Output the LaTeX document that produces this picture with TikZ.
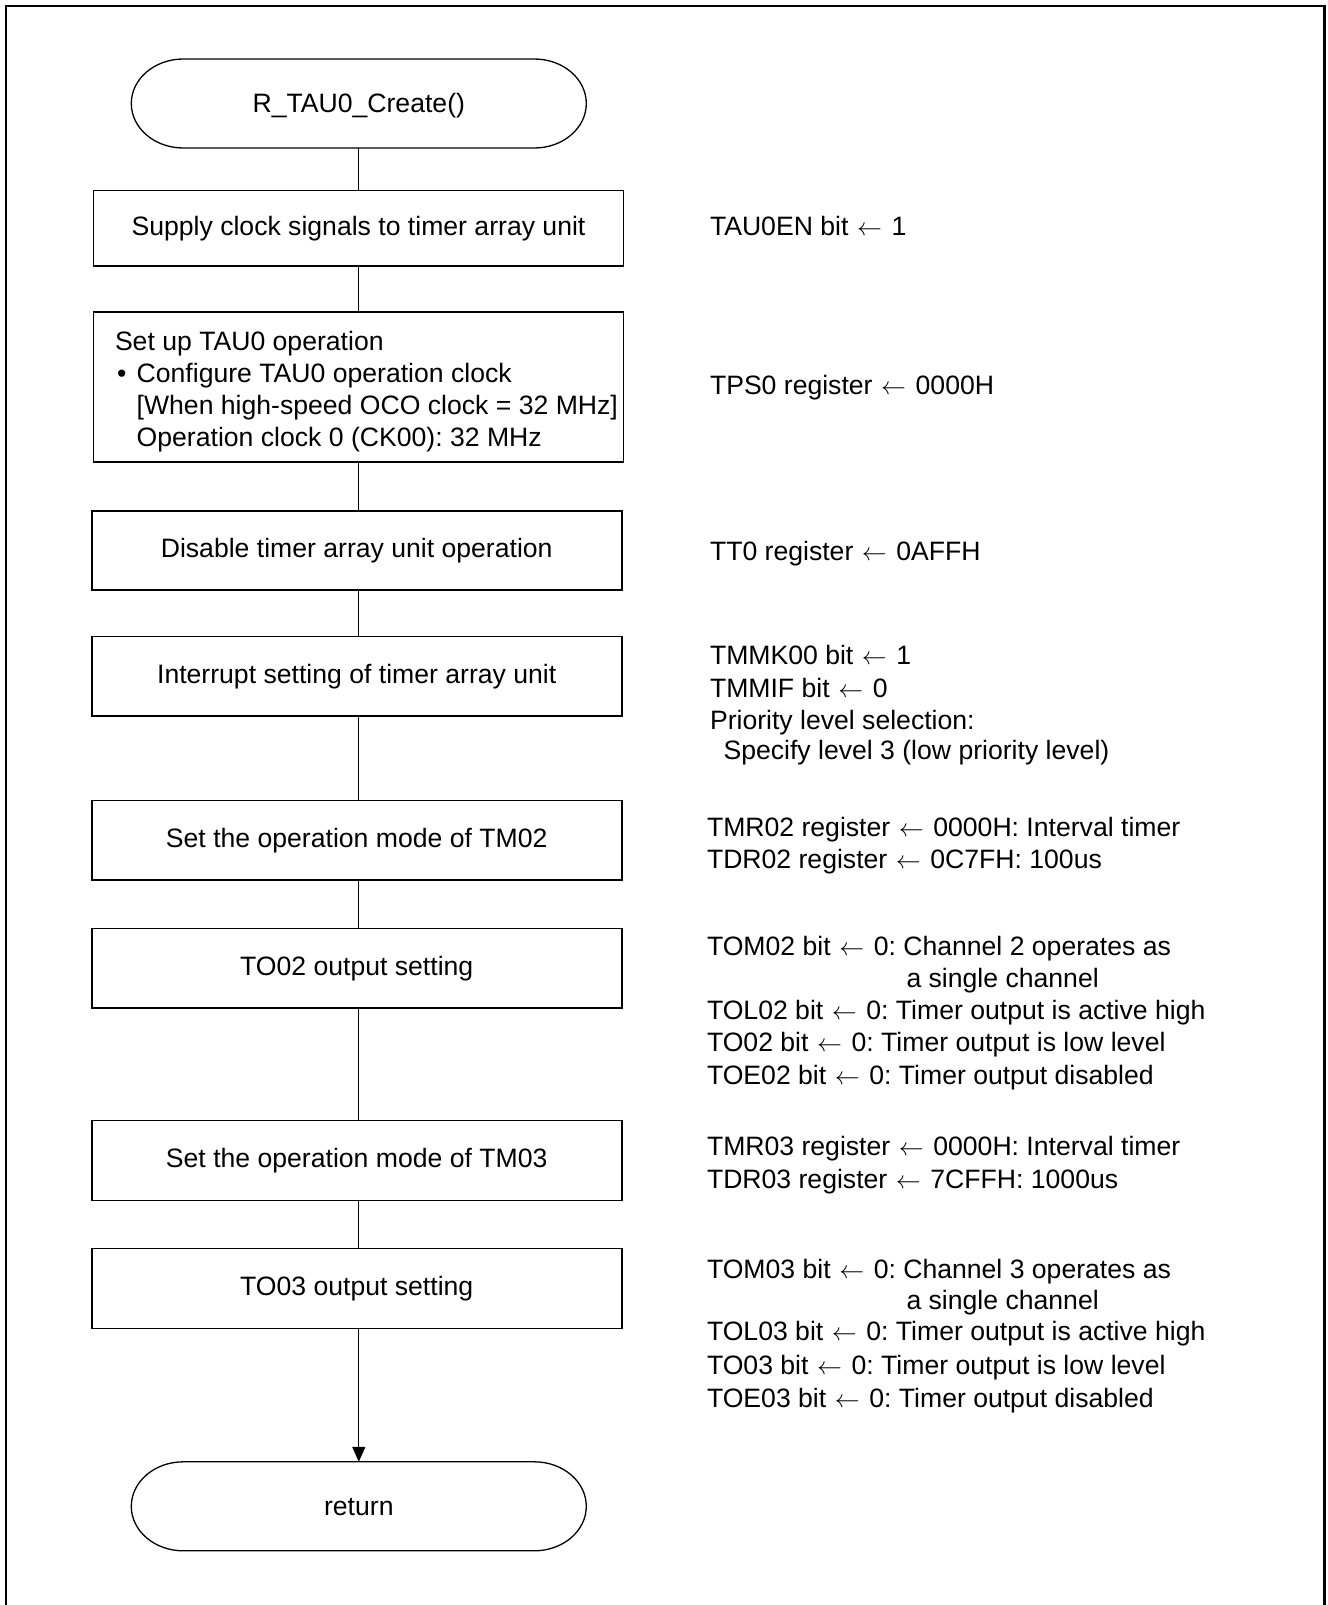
\documentclass[tikz,border=0pt]{standalone}
\usepackage{fontspec}
\setmainfont{Liberation Sans}
\usetikzlibrary{arrows.meta}
\frenchspacing
\newcommand\stadiumoutline[1]{%
  \draw[line width=1.3pt] ([xshift=52pt]#1.north west) -- ([xshift=-52pt]#1.north east)
    arc[start angle=90, end angle=-90, x radius=52pt, y radius=44.5pt]
    -- ([xshift=52pt]#1.south west)
    arc[start angle=270, end angle=90, x radius=52pt, y radius=44.5pt] -- cycle;}
\newcommand\getsarrow{\kern1.2pt$\leftarrow$\kern2.2pt}
\begin{document}
\begin{tikzpicture}[x=1pt,y=1pt,
  every node/.style={font=\fontsize{26.6pt}{32pt}\selectfont\frenchspacing, inner sep=0pt, outer sep=0pt},
  proc/.style={draw, line width=1.6pt, minimum width=530pt, text height=19pt, text depth=5pt},
  term/.style={minimum width=455pt, minimum height=89pt, text height=19pt, text depth=0pt},
  lbl/.style={anchor=base west},
  conn/.style={line width=1.3pt},
  frame/.style={line width=2.6pt}]
\useasboundingbox (0,0) rectangle (1327,-1605);
\fill[white] (0,0) rectangle (1327,-1605);

% outer frame
\coordinate (fbl) at (6,-1605);
\coordinate (ftl) at (6,-6);
\coordinate (ftr) at (1324.5,-6);
\coordinate (fbr) at (1324.5,-1605);
\draw[frame] (fbl) -- (ftl) -- (ftr) -- (fbr);

% flow chart
\node[term] (start) at (358.8,-103.5) {R\_TAU0\_Create()};
\stadiumoutline{start}
\node[proc, minimum height=75.5pt] (b1) at (358.5,-228.2) {Supply clock signals to timer array unit};
\node[draw, line width=1.6pt, minimum width=530pt, minimum height=150pt] (b2) at (358.3,-387) {};
\node[lbl] (b2l1) at (115,-350.5) {Set up TAU0 operation};
\node[lbl] (b2bul) at (117,-382.2) {\textbullet};
\node[lbl] (b2l2) at (136.7,-382.2) {Configure TAU0 operation clock};
\node[lbl] (b2l3) at (136.7,-414.5) {[When high-speed OCO clock = 32 MHz]};
\node[lbl] (b2l4) at (136.7,-446.5) {Operation clock 0 (CK00): 32 MHz};
\node[proc, minimum height=79pt] (b3) at (356.7,-550.5) {Disable timer array unit operation};
\node[proc, minimum height=79.5pt] (b4) at (356.7,-676.2) {Interrupt setting of timer array unit};
\node[proc, minimum height=79.5pt] (b5) at (356.7,-840.2) {Set the operation mode of TM02};
\node[proc, minimum height=79.5pt] (b6) at (356.7,-968.2) {TO02 output setting};
\node[proc, minimum height=80pt] (b7) at (356.7,-1160.5) {Set the operation mode of TM03};
\node[proc, minimum height=80pt] (b8) at (356.7,-1288.4) {TO03 output setting};
\node[term] (ret) at (358.8,-1506.3) {return};
\stadiumoutline{ret}

% connectors
\draw[conn] (start.south) -- (start.south |- b1.north);
\draw[conn] (start.south |- b1.south) -- (start.south |- b2.north);
\draw[conn] (start.south |- b2.south) -- (start.south |- b3.north);
\draw[conn] (start.south |- b3.south) -- (start.south |- b4.north);
\draw[conn] (start.south |- b4.south) -- (start.south |- b5.north);
\draw[conn] (start.south |- b5.south) -- (start.south |- b6.north);
\draw[conn] (start.south |- b6.south) -- (start.south |- b7.north);
\draw[conn] (start.south |- b7.south) -- (start.south |- b8.north);
\draw[conn, -{Triangle[length=15pt,width=13pt]}] (start.south |- b8.south) -- (ret.north);

% annotations
\node[lbl] (r1) at (710,-235.8) {TAU0EN bit \getsarrow\ 1};
\node[lbl] (r2) at (710,-394.5) {TPS0 register \getsarrow\ 0000H};
\node[lbl] (r3) at (710,-560.5) {TT0 register \getsarrow\ 0AFFH};
\node[lbl] (r4a) at (710,-664.5) {TMMK00 bit \getsarrow\ 1};
\node[lbl] (r4b) at (710,-697.5) {TMMIF bit \getsarrow\ 0};
\node[lbl] (r4c) at (710,-729.5) {Priority level selection:};
\node[lbl] (r4d) at (723.5,-759.5) {Specify level 3 (low priority level)};
\node[lbl] (r5a) at (707,-836) {TMR02 register \getsarrow\ 0000H: Interval timer};
\node[lbl] (r5b) at (707,-868.5) {TDR02 register \getsarrow\ 0C7FH: 100us};
\node[lbl] (r6a) at (707,-955.5) {TOM02 bit \getsarrow\ 0: Channel 2 operates as};
\node[lbl] (r6b) at (906.5,-987.5) {a single channel};
\node[lbl] (r6c) at (707,-1019) {TOL02 bit \getsarrow\ 0: Timer output is active high};
\node[lbl] (r6d) at (707,-1051.5) {TO02 bit \getsarrow\ 0: Timer output is low level};
\node[lbl] (r6e) at (707,-1084.5) {TOE02 bit \getsarrow\ 0: Timer output disabled};
\node[lbl] (r7a) at (707,-1155.8) {TMR03 register \getsarrow\ 0000H: Interval timer};
\node[lbl] (r7b) at (707,-1188.5) {TDR03 register \getsarrow\ 7CFFH: 1000us};
\node[lbl] (r8a) at (707,-1278) {TOM03 bit \getsarrow\ 0: Channel 3 operates as};
\node[lbl] (r8b) at (906.5,-1309) {a single channel};
\node[lbl] (r8c) at (707,-1340.5) {TOL03 bit \getsarrow\ 0: Timer output is active high};
\node[lbl] (r8d) at (707,-1374) {TO03 bit \getsarrow\ 0: Timer output is low level};
\node[lbl] (r8e) at (707,-1407) {TOE03 bit \getsarrow\ 0: Timer output disabled};
\end{tikzpicture}
\end{document}
